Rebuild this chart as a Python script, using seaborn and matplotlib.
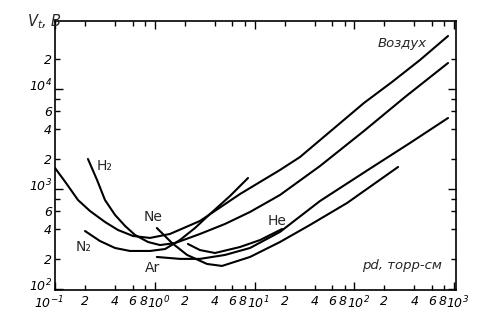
import pandas as pd
import seaborn as sns
import matplotlib.pyplot as plt
from matplotlib.transforms import ScaledTranslation

## Paschen curves: pd in torr*cm, breakdown voltage in volts

air_pd = [0.100, 0.129, 0.170, 0.224, 0.317, 0.428, 0.605, 0.896, 1.42, 2.84,
          7.16, 18.0, 28.6, 59.8, 125, 239, 456, 871]
air_v = [1622, 1148, 776, 603, 468, 389, 339, 324, 355, 479,
         891, 1549, 2089, 3890, 7244, 11749, 19498, 33884]

h2_pd = [0.214, 0.264, 0.317, 0.400, 0.504, 0.634, 0.856, 1.13, 1.60, 2.84,
         5.06, 9.01, 18.0, 45.4, 125, 323, 871]
h2_v = [1995, 1230, 776, 550, 427, 347, 295, 275, 288, 355,
        447, 589, 871, 1698, 3802, 8318, 18197]

n2_pd = [0.200, 0.282, 0.400, 0.565, 0.896, 1.27, 1.79, 2.53, 3.58, 5.68, 8.61]
n2_v = [380, 302, 257, 240, 240, 251, 309, 407, 562, 851, 1288]

ar_pd = [1.05, 1.79, 2.84, 5.06, 9.01, 18.0, 45.4, 137, 362, 871]
ar_v = [209, 200, 200, 219, 257, 372, 759, 1549, 2884, 5129]

ne_pd = [1.05, 1.49, 2.11, 3.34, 4.72, 9.01, 18.0, 36.0, 84.6, 275]
ne_v = [407, 288, 219, 178, 170, 209, 295, 437, 724, 1660]

he_pd = [2.15, 2.84, 4.02, 7.16, 11.4, 18.9]
he_v = [282, 245, 229, 263, 309, 398]

x_major = [0.1, 1, 10, 100, 1000]
x_major_labels = ['$10^{-1}$', '$10^{0}$', '$10^{1}$', '$10^{2}$', '$10^{3}$']
x_minor = [m * d for d in [0.1, 1, 10, 100] for m in [2, 4, 6, 8]]
x_minor_labels = ['2', '4', '6', '8'] * 4

y_major = [100, 1000, 10000]
y_major_labels = ['$10^{2}$', '$10^{3}$', '$10^{4}$']
y_minor = [200, 400, 600, 800, 2000, 4000, 6000, 8000, 20000]
y_minor_labels = ['2', '4', '6', '', '2', '4', '6', '', '2']

curves = {'air': (air_pd, air_v), 'H2': (h2_pd, h2_v), 'N2': (n2_pd, n2_v),
          'Ar': (ar_pd, ar_v), 'Ne': (ne_pd, ne_v), 'He': (he_pd, he_v)}

sns.set_style('ticks')
plt.rcParams['font.family'] = ['DejaVu Sans']
plt.rcParams['mathtext.fontset'] = 'custom'
plt.rcParams['mathtext.rm'] = 'DejaVu Sans:italic'
plt.rcParams['mathtext.it'] = 'DejaVu Sans:italic'

W, H = 491, 329
fig = plt.figure(figsize=(W / 100, H / 100), dpi=100)
ax = fig.add_axes([55 / W, 1 - 290 / H, (456 - 55) / W, (290 - 21) / H])
ax.set_xscale('log')
ax.set_yscale('log')

for gas, (pd_vals, v_vals) in curves.items():
    df = pd.DataFrame({'pd': pd_vals, 'V': v_vals})
    sns.lineplot(data=df, x='pd', y='V', ax=ax, color='black', lw=1.5,
                 estimator=None, sort=False)

ax.set_xlim(0.1, 1047)
ax.set_ylim(97.7, 47860)
ax.set_xlabel('')
ax.set_ylabel('')

ax.set_xticks(x_major, x_major_labels)
ax.set_xticks(x_minor, x_minor_labels, minor=True)
ax.set_yticks(y_major, y_major_labels)
ax.set_yticks(y_minor, y_minor_labels, minor=True)
ax.tick_params(which='both', direction='in', top=True, right=True,
               labelsize=9, pad=2, color='black', labelcolor='black')
ax.tick_params(axis='x', which='both', pad=3.5)
ax.tick_params(which='major', length=6, width=1)
ax.tick_params(which='minor', length=3.5, width=1)
for lab in ax.get_xticklabels(minor=True) + ax.get_yticklabels(minor=True):
    lab.set_fontstyle('italic')


def px_shift(dx, dy):
    return ScaledTranslation(dx / 100, dy / 100, fig.dpi_scale_trans)


# the scan sets decade labels a little off their ticks
for i, tick in enumerate(ax.xaxis.get_major_ticks()):
    dx = -6 if i == 0 else 4
    tick.label1.set_transform(tick.label1.get_transform() + px_shift(dx, 0))
for tick in ax.yaxis.get_major_ticks():
    tick.label1.set_transform(tick.label1.get_transform() + px_shift(0, 4))
for lab in ax.get_xticklabels(minor=True):
    if lab.get_text() == '8':
        lab.set_ha('right')
        lab.set_transform(lab.get_transform() + px_shift(2, 0))

for sp in ax.spines.values():
    sp.set_linewidth(1.2)
    sp.set_color('black')


def fxy(x, y):
    return x / W, 1 - y / H


fig.text(*fxy(27, 22), r'$V_t$, В', fontsize=10.5, style='italic', va='center', ha='left')
fig.text(*fxy(402, 44), 'Воздух', fontsize=9.5, style='italic', ha='center', va='center')
fig.text(*fxy(402, 266), 'pd, торр-см', fontsize=9.5, style='italic', ha='center', va='center')
fig.text(*fxy(105, 166), 'H₂', fontsize=10, ha='center', va='center')
fig.text(*fxy(84, 247), 'N₂', fontsize=10, ha='center', va='center')
fig.text(*fxy(153, 217), 'Ne', fontsize=10, ha='center', va='center')
fig.text(*fxy(153, 268), 'Ar', fontsize=10, ha='center', va='center')
fig.text(*fxy(277, 221), 'He', fontsize=10, ha='center', va='center')

fig.savefig('out.png', dpi=100)
